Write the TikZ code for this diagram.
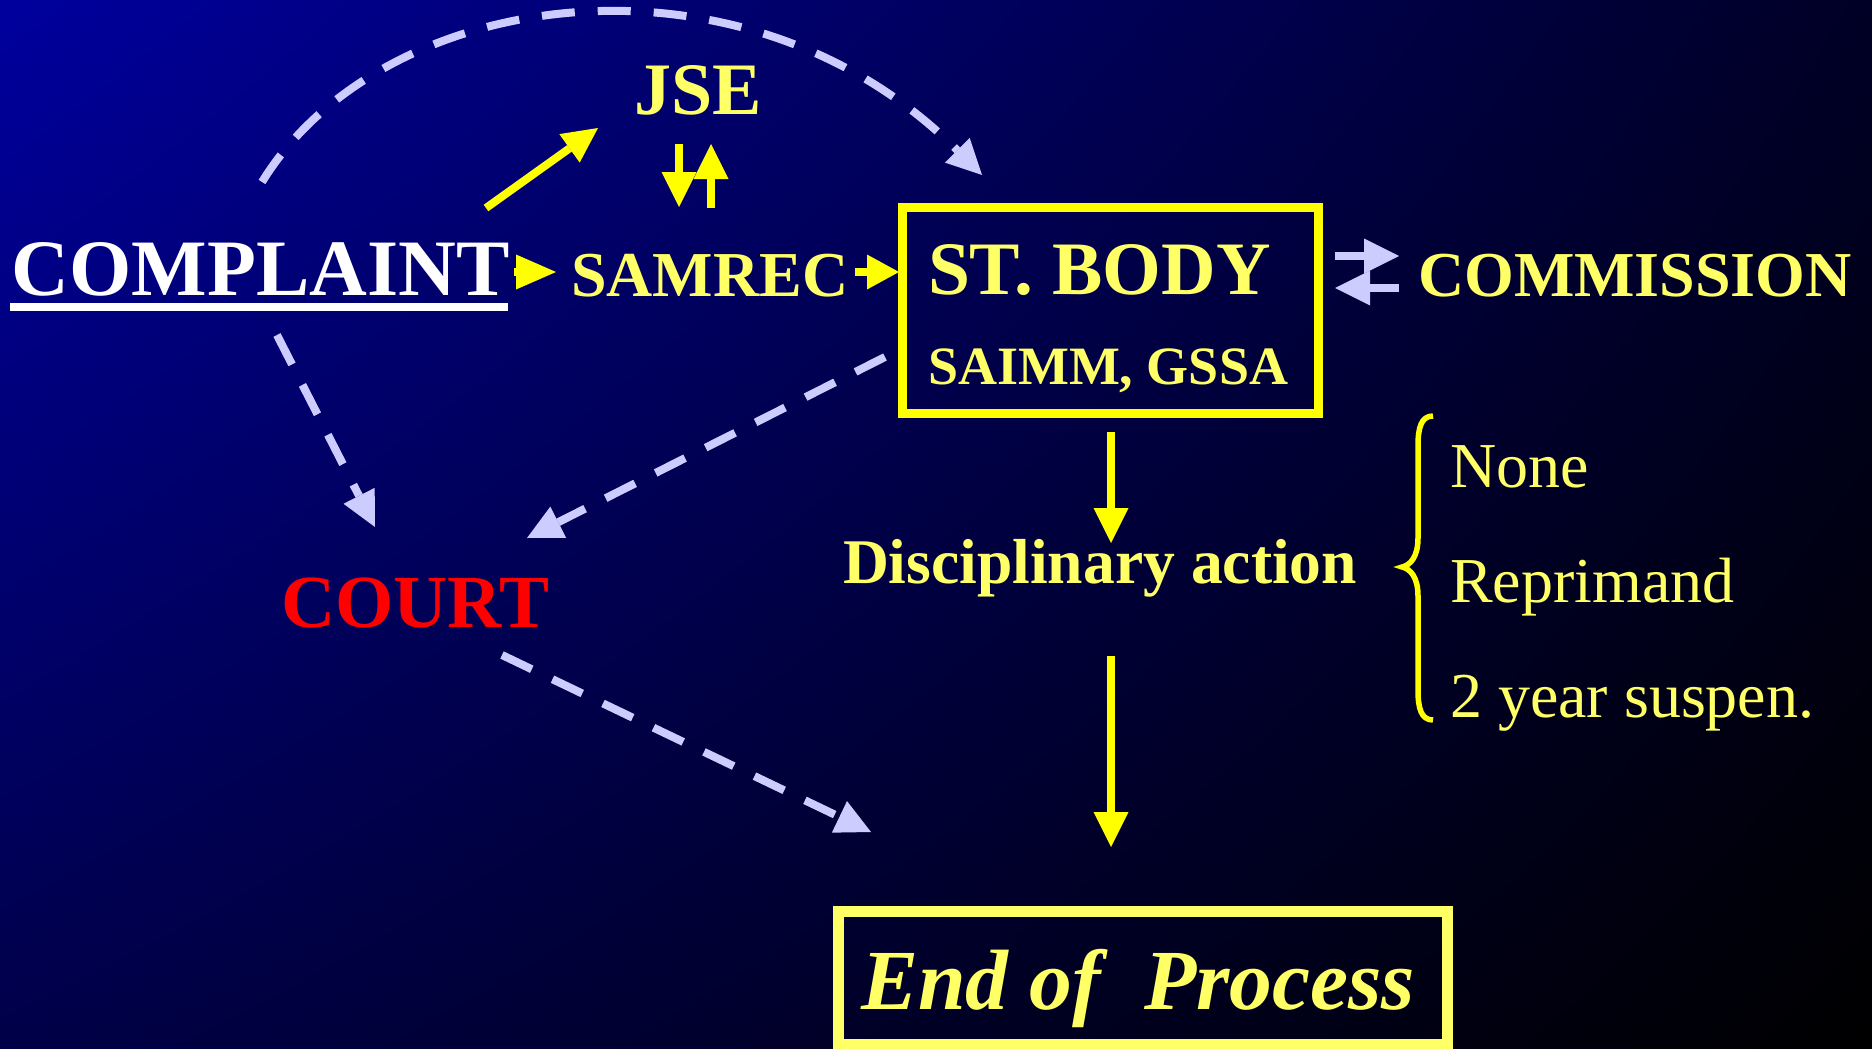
\documentclass[tikz,border=0pt]{standalone}
\usepackage{fontspec}
\setmainfont{Liberation Serif}
\usetikzlibrary{arrows.meta,shadings}
\definecolor{bgUL}{RGB}{0,0,158}
\definecolor{bgUR}{RGB}{0,0,38}
\definecolor{bgLL}{RGB}{0,0,72}
\definecolor{txty}{RGB}{255,255,102}
\definecolor{ylw}{RGB}{255,255,0}
\definecolor{lav}{RGB}{204,204,255}
\newcommand\setfs[1]{\fontsize{#1}{#1}\selectfont}
\tikzset{
  txt/.style={anchor=base west, inner sep=0pt, outer sep=0pt},
  yarrow/.style={draw=ylw, line width=8pt, -{Triangle[length=35pt,width=35pt,line width=0pt]}},
  larrow/.style={draw=lav, line width=8pt, -{Triangle[length=35pt,width=35pt,line width=0pt]}},
  dasharrow/.style={draw=lav, line width=8pt, dash pattern=on 33pt off 23pt, -{Triangle[length=35pt,width=35pt,line width=0pt]}},
}
\begin{document}
\begin{tikzpicture}[x=1pt,y=-1pt]
\useasboundingbox (0,0) rectangle (1872,1049);
\shade[upper left=bgUL, upper right=bgUR, lower left=bgLL, lower right=black] (0,0) rectangle (1872,1049);

% text nodes
\node[txt, text=white] (complaint) at (12,295) {\setfs{80}\bfseries COMPLAINT};
\fill[white] (10,303) rectangle (508,311);
\node[txt, text=txty] (samrec) at (571,296) {\setfs{64}\bfseries SAMREC};
\node[txt, text=txty] (jse) at (634,114) {\setfs{74}\bfseries JSE};
\node[draw=ylw, line width=9pt, minimum width=416pt, minimum height=206pt, inner sep=0pt] (stbody) at (1110.5,310.5) {};
\node[txt, text=txty] (stbodyt) at (928,294) {\setfs{75.5}\bfseries ST. BODY};
\node[txt, text=txty] (saimm) at (928,384) {\setfs{54}\bfseries SAIMM, GSSA};
\node[txt, text=txty] (commission) at (1418,296) {\setfs{64}\bfseries COMMISSION};
\node[txt, text=red] (court) at (281,627) {\setfs{75}\bfseries COURT};
\node[txt, text=txty] (disc) at (843,583) {\setfs{63.6}\bfseries Disciplinary action};
\node[txt, text=txty] (none) at (1450,487) {\setfs{64}None};
\node[txt, text=txty] (repr) at (1450,602) {\setfs{64}Reprimand};
\node[txt, text=txty] (susp) at (1450,717) {\setfs{64}2 year suspen.};
\node[draw=txty, line width=11pt, minimum width=609pt, minimum height=133pt, inner sep=0pt] (endbox) at (1143,978) {};
\node[txt, text=txty] (endt) at (861,1009) {\setfs{85.6}\bfseries\itshape End of\ \ Process};

% connector end points
\coordinate (c2jA) at (486,208);   \coordinate (c2jB) at (598,128);
\coordinate (jdA) at (679,144);    \coordinate (jdB) at (679,207);
\coordinate (juA) at (711,208);    \coordinate (juB) at (711,144);
\coordinate (c2sA) at (514,272);   \coordinate (c2sB) at (556,272);
\coordinate (s2bA) at (855,272);   \coordinate (s2bB) at (899,272);
\coordinate (b2dA) at (1111,432);  \coordinate (b2dB) at (1111,543);
\coordinate (d2eA) at (1111,656);  \coordinate (d2eB) at (1111,847);
\coordinate (bcA) at (1335,256);   \coordinate (bcB) at (1399,256);
\coordinate (cbA) at (1399,288);   \coordinate (cbB) at (1335,288);
\coordinate (arcA) at (262,182);   \coordinate (arcB) at (982,175);
\coordinate (ccA) at (277,335);    \coordinate (ccB) at (375,527);
\coordinate (bkA) at (885,357);    \coordinate (bkB) at (527,538);
\coordinate (ceA) at (502,655);    \coordinate (ceB) at (871,832);

% yellow arrows
\draw[yarrow] (c2jA) -- (c2jB);
\draw[yarrow] (jdA) -- (jdB);
\draw[yarrow] (juA) -- (juB);
\draw[yarrow, -{Triangle[length=40pt,width=35pt,line width=0pt]}] (c2sA) -- (c2sB);
\draw[yarrow, -{Triangle[length=32pt,width=35pt,line width=0pt]}] (s2bA) -- (s2bB);
\draw[yarrow, line width=7.5pt] (b2dA) -- (b2dB);
\draw[yarrow, line width=7.5pt] (d2eA) -- (d2eB);

% commission exchange arrows
\draw[larrow] (bcA) -- (bcB);
\draw[larrow] (cbA) -- (cbB);

% dashed arrows
\draw[dasharrow] (arcA) .. controls (383,-15) and (744,-63) .. (arcB);
\draw[dasharrow] (ccA) -- (ccB);
\draw[dasharrow] (bkA) -- (bkB);
\draw[dasharrow] (ceA) -- (ceB);

% brace
\draw[ylw, line width=5.5pt] (1433,416) .. controls (1421,416) and (1418,428) .. (1418,446)
  -- (1418,538) .. controls (1418,556) and (1411,565) .. (1402,567)
  .. controls (1411,569) and (1418,578) .. (1418,596)
  -- (1418,690) .. controls (1418,708) and (1421,720) .. (1433,720);
\end{tikzpicture}
\end{document}
